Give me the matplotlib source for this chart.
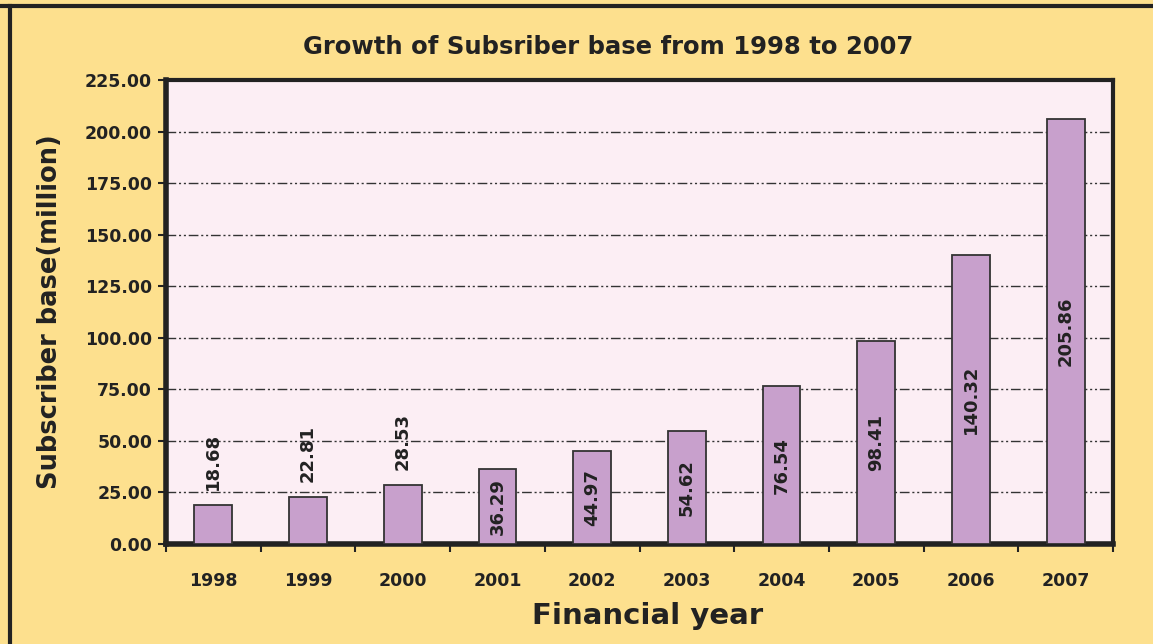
import matplotlib.pyplot as plt
import numpy as np
from matplotlib.lines import Line2D

# data
years = ['1998', '1999', '2000', '2001', '2002', '2003', '2004', '2005', '2006', '2007']
subscribers = [18.68, 22.81, 28.53, 36.29, 44.97, 54.62, 76.54, 98.41, 140.32, 205.86]
yticks = [0, 25, 50, 75, 100, 125, 150, 175, 200, 225]

fig = plt.figure(figsize=(11.53, 6.44), dpi=100, facecolor='#FDE08E')
ax = fig.add_axes([0.144, 0.1553, 0.8213, 0.7205])
ax.set_facecolor('#FCEEF4')

x = np.arange(len(years))
bars = ax.bar(x, subscribers, width=0.4, color='#C8A0CC', edgecolor='#333333', linewidth=1.3, zorder=3)

# value labels: small bars get it above, others centred inside
for xi, v in zip(x, subscribers):
    if v < 30:
        ax.annotate(f'{v:.2f}', (xi, v), xytext=(0, 11), textcoords='offset points',
                    rotation=90, ha='center', va='bottom', fontsize=13, fontweight='bold', color='#222222')
    else:
        ax.text(xi, v / 2, f'{v:.2f}', rotation=90, ha='center', va='center',
                fontsize=13, fontweight='bold', color='#222222', zorder=4)

ax.set_xlim(-0.5, len(years) - 0.5)
ax.set_ylim(0, 225)
ax.set_yticks(yticks)
ax.set_yticklabels([f'{t:.2f}' for t in yticks], fontsize=12.5, fontweight='bold', color='#222222')
ax.set_xticks(x)
ax.set_xticklabels(years, fontsize=12.5, fontweight='bold', color='#222222')
ax.set_xticks(np.arange(-0.5, len(years)), minor=True)
ax.tick_params(axis='x', which='major', length=0, pad=20)
ax.tick_params(axis='x', which='minor', length=6, width=1.5, direction='out', color='#222222')
ax.tick_params(axis='y', length=6, width=1.5, direction='out', color='#222222', pad=4)

ax.yaxis.grid(True, linestyle=(0, (7, 2, 1.5, 2, 1.5, 2)), color='#333333', linewidth=1, zorder=1)
ax.set_axisbelow(True)

for side in ['left', 'bottom']:
    ax.spines[side].set_linewidth(4)
    ax.spines[side].set_color('#222222')
for side in ['top', 'right']:
    ax.spines[side].set_linewidth(3)
    ax.spines[side].set_color('#222222')

ax.set_title('Growth of Subsriber base from 1998 to 2007', fontsize=17.5, fontweight='bold',
             color='#222222', pad=19, x=0.467)
ax.set_xlabel('Financial year', fontsize=21, fontweight='bold', color='#222222', labelpad=10)
ax.xaxis.set_label_coords(0.508, -0.125)
ax.set_ylabel('Subscriber base(million)', fontsize=18.5, fontweight='bold', color='#222222', labelpad=16)

# dark frame on top and left edge of the picture
fig.add_artist(Line2D([0, 1], [0.99, 0.99], transform=fig.transFigure, color='#222222', linewidth=3))
fig.add_artist(Line2D([0.0087, 0.0087], [0, 0.99], transform=fig.transFigure, color='#222222', linewidth=3))

plt.savefig('out.png', dpi=100, facecolor=fig.get_facecolor())
